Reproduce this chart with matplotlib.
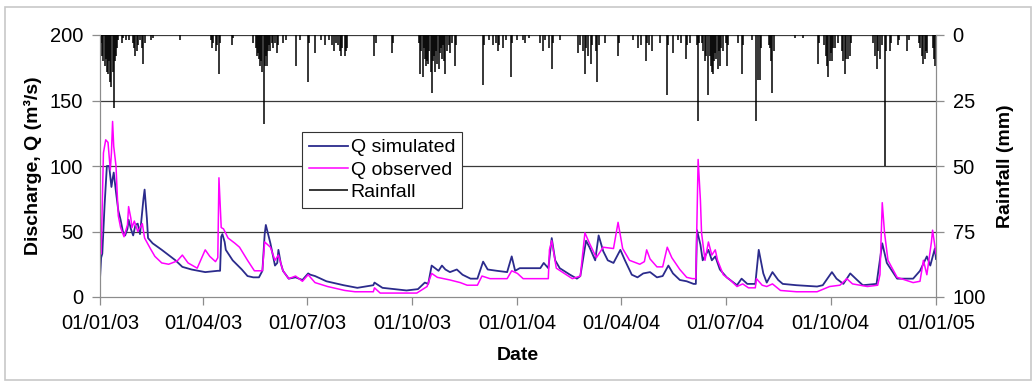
import numpy as np
import pandas as pd
import matplotlib
matplotlib.use('Agg')
import matplotlib.pyplot as plt
import matplotlib.dates as mdates
from matplotlib.patches import Rectangle

plt.rcParams['font.family'] = ['Liberation Sans', 'DejaVu Sans']

START = pd.Timestamp('2003-01-01')

# simulated discharge (day offset from 01/01/03, m3/s)
sim_days = [0, 1, 2, 4, 6, 8, 9, 10, 11, 12, 14, 16, 18, 20, 22, 24, 25, 27, 29, 31,
            33, 35, 38, 39, 41, 42, 46, 54, 60, 66, 72, 80, 92, 103, 105, 106, 107, 109,
            110, 116, 124, 129, 134, 139, 142, 144, 145, 147, 149, 153, 155, 156, 158,
            160, 165, 171, 177, 182, 184, 188, 198, 213, 225, 239, 240, 247, 268, 278,
            284, 287, 290, 293, 296, 299, 302, 306, 312, 317, 324, 330, 335, 339, 347,
            356, 360, 363, 367, 385, 388, 392, 395, 398, 402, 411, 417, 420, 425, 428,
            433, 436, 440, 444, 449, 455, 459, 465, 470, 475, 481, 487, 492, 497, 501,
            507, 513, 519, 521, 522, 525, 527, 532, 535, 538, 542, 548, 557, 561, 566,
            573, 576, 580, 583, 588, 593, 597, 609, 627, 632, 640, 644, 650, 656, 662,
            667, 679, 684, 688, 697, 711, 717, 723, 726, 730, 731]
sim_q = [14, 30, 33, 70, 100, 100, 92, 84, 90, 95, 80, 66, 59, 50, 47, 52, 59, 52, 47, 55,
         56, 48, 75, 82, 60, 45, 41, 36, 32, 28, 23, 21, 19, 20, 20, 46, 48, 42,
         36, 28, 21, 16, 15, 15, 20, 48, 55, 48, 41, 24, 26, 36, 26,
         20, 14, 15, 13, 18, 17, 16, 12, 9, 7, 9, 11, 7, 5, 6,
         11, 10, 24, 22, 20, 24, 21, 19, 21, 17, 14, 14, 27, 21, 20,
         19, 31, 20, 22, 22, 26, 22, 45, 28, 22, 17, 14, 16, 43, 38,
         28, 47, 35, 28, 26, 36, 28, 17, 15, 18, 19, 15, 16, 24, 18,
         13, 12, 10, 10, 51, 40, 28, 36, 28, 31, 21, 15, 9, 14, 10,
         10, 36, 18, 11, 19, 13, 10, 9, 8, 9, 19, 14, 10, 18, 13,
         9, 10, 41, 26, 14, 14, 20, 31, 24, 37, 29]

# observed discharge (day offset, m3/s)
obs_days = [0, 1, 2, 3, 5, 7, 9, 10, 11, 12, 14, 15, 16, 18, 21, 24, 25, 27, 28, 30,
            33, 37, 39, 44, 48, 54, 60, 66, 68, 72, 77, 85, 92, 96, 101, 103, 104, 106,
            108, 112, 118, 122, 129, 135, 142, 144, 149, 153, 156, 160, 165, 171, 177,
            182, 188, 199, 214, 223, 239, 240, 245, 277, 286, 290, 295, 306, 315, 321,
            330, 334, 341, 356, 360, 365, 370, 385, 392, 393, 395, 399, 413, 420, 424,
            428, 434, 440, 449, 453, 457, 463, 472, 476, 478, 481, 487, 492, 496, 500,
            507, 513, 518, 521, 523, 525, 526, 529, 532, 535, 538, 540, 545, 551, 557,
            562, 567, 573, 574, 579, 583, 588, 595, 609, 627, 638, 647, 653, 658, 671,
            680, 682, 684, 686, 689, 697, 711, 717, 720, 723, 727, 728, 731]
obs_q = [33, 33, 70, 110, 120, 118, 97, 110, 134, 115, 100, 80, 62, 53, 46, 55, 69, 60, 53, 58,
         50, 56, 45, 37, 31, 26, 25, 27, 28, 32, 26, 22, 36, 31, 27, 30, 91, 53,
         52, 45, 41, 38, 28, 20, 20, 42, 38, 28, 32, 20, 14, 16, 12,
         17, 11, 8, 5, 4, 4, 7, 3, 3, 8, 18, 15, 13, 11, 9,
         9, 16, 14, 14, 20, 18, 14, 14, 14, 36, 43, 22, 14, 16, 49,
         41, 30, 38, 37, 57, 37, 28, 25, 27, 36, 29, 23, 23, 38, 30,
         21, 15, 14, 14, 105, 74, 49, 28, 42, 32, 36, 28, 17, 13, 8,
         10, 7, 7, 14, 9, 8, 10, 5, 4, 4, 8, 9, 14, 10, 8,
         9, 17, 72, 49, 28, 15, 11, 12, 28, 17, 42, 51, 33]

# daily rainfall on wet days (day offset, mm); all other days are dry
rain_days = [1, 2, 3, 4, 5, 6, 7, 8, 9, 10, 11, 12, 13, 14, 15, 16,
             19, 20, 23, 25, 29, 30, 31, 32, 33, 35, 37, 38, 39, 45, 46, 70,
             97, 98, 99, 101, 102, 104, 105, 115, 116,
             134, 136, 137, 138, 139, 140, 141, 142, 143, 144, 145, 146, 147, 148, 149,
             150, 151, 153, 155, 156, 160, 163,
             171, 175, 182, 183, 188, 193, 197, 200, 203, 205, 206, 208, 210, 211, 212,
             214, 215, 216, 240, 241, 255, 256,
             279, 280, 281, 282, 283, 284, 285, 286, 287, 288, 289, 290, 291, 292, 293,
             294, 295, 296, 297, 298, 299, 300, 301, 302, 303, 305, 306, 308, 310, 311,
             335, 336, 340, 344, 346, 348, 349, 352, 355, 359, 360, 365, 370, 372, 375,
             385, 387, 389, 393, 395, 396, 402,
             418, 420, 422, 424, 425, 427, 429, 430, 434, 435, 436, 442, 453, 454,
             466, 470, 473, 477, 478, 480, 483, 490, 496, 497, 501, 505, 508, 512, 513, 516,
             522, 523, 524, 526, 527, 529, 530, 532, 533, 534, 535, 536, 537, 538, 539,
             540, 541, 542, 543, 545, 547, 548, 549,
             558, 561, 562, 570, 574, 575, 577, 578, 585, 586, 587, 588, 589, 608, 615,
             628, 629, 633, 635, 636, 637, 638, 639, 640, 641, 643, 645, 649, 650, 651,
             652, 654, 656, 657,
             676, 678, 679, 680, 682, 684, 686, 687, 691, 692, 698, 699, 706, 707, 716,
             717, 719, 720, 721, 722, 723, 728, 729, 730]
rain_mm = [3, 8, 10, 12, 9, 14, 15, 10, 18, 20, 14, 28, 10, 8, 5, 2,
           3, 1, 2, 2, 3, 5, 8, 6, 4, 2, 5, 11, 3, 2, 1, 2,
           2, 5, 3, 6, 4, 15, 3, 4, 1,
           3, 5, 8, 7, 9, 12, 10, 14, 34, 12, 8, 12, 6, 4, 6,
           3, 5, 3, 7, 4, 3, 2,
           12, 2, 18, 3, 7, 2, 4, 2, 4, 6, 3, 4, 6, 8, 5,
           8, 6, 5, 8, 3, 7, 3,
           3, 15, 6, 16, 5, 9, 12, 10, 11, 6, 14, 22, 10, 8, 14,
           6, 11, 13, 7, 5, 9, 4, 10, 15, 6, 4, 7, 3, 12, 4,
           19, 4, 2, 4, 3, 6, 4, 5, 2, 16, 3, 2, 2, 3, 1,
           3, 6, 2, 5, 13, 3, 2,
           7, 4, 6, 15, 5, 8, 11, 4, 6, 18, 4, 3, 8, 3,
           2, 5, 4, 10, 3, 4, 6, 3, 23, 4, 7, 2, 3, 9, 4, 3,
           4, 33, 3, 3, 6, 10, 8, 23, 8, 12, 14, 15, 10, 7, 9,
           13, 6, 12, 5, 6, 3, 12, 4,
           3, 15, 4, 2, 33, 17, 17, 5, 4, 5, 10, 22, 6, 1, 1,
           11, 3, 4, 8, 12, 16, 10, 7, 10, 5, 5, 3, 6, 10, 15,
           9, 9, 8, 3,
           3, 8, 13, 6, 9, 4, 50, 6, 6, 3, 4, 2, 6, 2, 3,
           5, 8, 11, 9, 6, 7, 5, 9, 12]

date_ticks = pd.date_range('2003-01-01', '2005-01-01', freq='3MS')

sim_dates = START + pd.to_timedelta(sim_days, unit='D')
obs_dates = START + pd.to_timedelta(obs_days, unit='D')
rain_dates = START + pd.to_timedelta(rain_days, unit='D')

fig = plt.figure(figsize=(10.35, 3.82), dpi=100)
fig.patches.append(Rectangle((5 / 1035, 2 / 382), 1026 / 1035, 373 / 382,
                             transform=fig.transFigure, fill=False,
                             edgecolor='#c8c8c8', linewidth=1.2))
ax = fig.add_axes([100 / 1035, 85 / 382, 836 / 1035, 262 / 382])

ax.plot(sim_dates, sim_q, color='#2b2b8c', lw=1.3, label='Q simulated')
ax.plot(obs_dates, obs_q, color='#ff00ff', lw=1.1, label='Q observed')
ax.set_ylim(0, 200)
ax.set_yticks([0, 50, 100, 150, 200])
ax.set_xlim(START, pd.Timestamp('2005-01-01'))
ax.set_xticks(date_ticks)
ax.xaxis.set_major_formatter(mdates.DateFormatter('%d/%m/%y'))
for v in [50, 100, 150, 200]:
    ax.axhline(v, color='#3a3a3a', lw=0.9, zorder=0)

ax2 = ax.twinx()
ax2.vlines(rain_dates, 0, rain_mm, color='black', lw=1.1, label='Rainfall')
ax2.set_ylim(100, 0)
ax2.set_yticks([0, 25, 50, 75, 100])
ax2.set_xlim(START, pd.Timestamp('2005-01-01'))

for a in (ax, ax2):
    for s in a.spines.values():
        s.set_color('#8c8c8c')
    a.spines['top'].set_visible(False)
    a.tick_params(direction='out', length=6, width=0.9, color='#8c8c8c',
                  labelsize=14.5, pad=6)

ax.set_ylabel('Discharge, Q (m³/s)', fontsize=14, fontweight='bold', labelpad=6)
ax2.set_ylabel('Rainfall (mm)', fontsize=14, fontweight='bold', labelpad=8)
ax.set_xlabel('Date', fontsize=14, fontweight='bold', labelpad=10)

h1, l1 = ax.get_legend_handles_labels()
h2, l2 = ax2.get_legend_handles_labels()
leg = ax2.legend(h1 + h2, l1 + l2, loc='upper left', bbox_to_anchor=(0.2416, 0.63),
                 fontsize=14, frameon=True, fancybox=False, framealpha=1,
                 edgecolor='#333333', handlelength=2.0, handletextpad=0.15,
                 labelspacing=0.25, borderpad=0.35, borderaxespad=0)
leg.get_frame().set_linewidth(0.8)

fig.savefig('out.png', dpi=100)
